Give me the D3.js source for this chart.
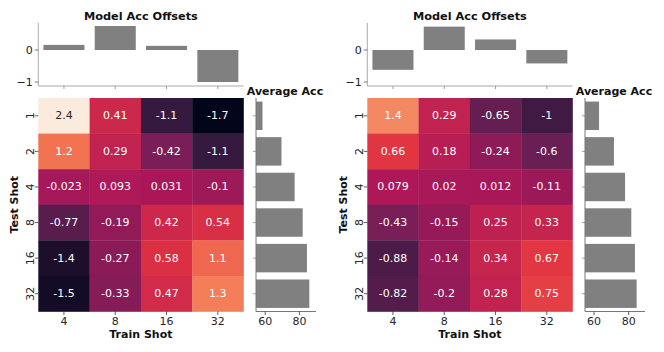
<!DOCTYPE html>
<html>
<head>
<meta charset="utf-8">
<script src="https://cdn.jsdelivr.net/npm/d3@7"></script>
<style>
  body { margin: 0; background: #fff; }
  text { font-family: "DejaVu Sans", sans-serif; }
</style>
</head>
<body>
<div id="chart"></div>
<script>
// data
var trainShots = ["4", "8", "16", "32"];
var testShots = ["1", "2", "4", "8", "16", "32"];

var leftHeat = [
  [2.4, 0.41, -1.1, -1.7],
  [1.2, 0.29, -0.42, -1.1],
  [-0.023, 0.093, 0.031, -0.1],
  [-0.77, -0.19, 0.42, 0.54],
  [-1.4, -0.27, 0.58, 1.1],
  [-1.5, -0.33, 0.47, 1.3]
];
var rightHeat = [
  [1.4, 0.29, -0.65, -1],
  [0.66, 0.18, -0.24, -0.6],
  [0.079, 0.02, 0.012, -0.11],
  [-0.43, -0.15, 0.25, 0.33],
  [-0.88, -0.14, 0.34, 0.67],
  [-0.82, -0.2, 0.28, 0.75]
];
var leftOffsets = [0.16, 0.75, 0.13, -1.0];
var rightOffsets = [-0.62, 0.73, 0.33, -0.42];
var leftAvg = [58.4, 69.5, 77.2, 81.9, 84.4, 85.8];
var rightAvg = [62.9, 71.5, 77.9, 81.5, 83.6, 84.6];
var offsetTicks = [0, -1];
var avgTicks = [60, 80];

var width = 664, height = 352;

var svg = d3.select("#chart")
    .append("svg")
    .attr("width", width)
    .attr("height", height);

// seaborn "rocket" colormap: end points plus its 6-colour palette at k/7
var rocket = ["#03051a", "#35193e", "#701f57", "#ad1759", "#e13342",
              "#f37651", "#f6b48f", "#faebdd"];
var vmin = -1.7, vmax = 2.4;
var color = d3.scaleLinear()
    .domain(rocket.map(function(c, i) { return vmin + (vmax - vmin) * i / (rocket.length - 1); }))
    .range(rocket)
    .interpolate(d3.interpolateRgb)
    .clamp(true);

var fmt = d3.formatLocale({decimal: ".", thousands: ",", grouping: [3], currency: ["", ""], minus: "-"})
    .format(".2~g");

function luminance(c) {
  var rgb = d3.rgb(c);
  var f = function(v) { v = v / 255; return v <= 0.03928 ? v / 12.92 : Math.pow((v + 0.055) / 1.055, 2.4); };
  return 0.2126 * f(rgb.r) + 0.7152 * f(rgb.g) + 0.0722 * f(rgb.b);
}

function drawPanel(dx, heat, offsets, avg, avgDomain) {
  var g = svg.append("g").attr("transform", "translate(" + dx + ",0)");

  var heatLeft = 38.3, heatRight = 243.5, heatTop = 98, heatBottom = 311.5;

  var x = d3.scaleBand().domain(trainShots).range([heatLeft, heatRight]);
  var y = d3.scaleBand().domain(testShots).range([heatTop, heatBottom]);

  // heatmap cells
  var cells = [];
  heat.forEach(function(row, i) {
    row.forEach(function(v, j) { cells.push({row: testShots[i], col: trainShots[j], value: v}); });
  });

  g.selectAll(".cell")
    .data(cells)
    .enter().append("rect")
    .attr("x", function(d) { return x(d.col); })
    .attr("y", function(d) { return y(d.row); })
    .attr("width", x.bandwidth() + 0.3)
    .attr("height", y.bandwidth() + 0.3)
    .attr("fill", function(d) { return color(d.value); });

  g.selectAll(".annot")
    .data(cells)
    .enter().append("text")
    .attr("x", function(d) { return x(d.col) + x.bandwidth() / 2; })
    .attr("y", function(d) { return y(d.row) + y.bandwidth() / 2; })
    .attr("text-anchor", "middle")
    .attr("dominant-baseline", "central")
    .attr("font-size", "11px")
    .attr("fill", function(d) { return luminance(color(d.value)) < 0.408 ? "#ffffff" : "#262626"; })
    .text(function(d) { return fmt(d.value); });

  // heatmap ticks
  g.selectAll(".xt")
    .data(trainShots)
    .enter().append("line")
    .attr("x1", function(d) { return x(d) + x.bandwidth() / 2; })
    .attr("x2", function(d) { return x(d) + x.bandwidth() / 2; })
    .attr("y1", heatBottom).attr("y2", heatBottom + 3.5)
    .attr("stroke", "#333").attr("stroke-width", 0.8);
  g.selectAll(".xl")
    .data(trainShots)
    .enter().append("text")
    .attr("x", function(d) { return x(d) + x.bandwidth() / 2; })
    .attr("y", 324.5)
    .attr("text-anchor", "middle")
    .attr("font-size", "11px")
    .attr("fill", "#262626")
    .text(function(d) { return d; });

  g.selectAll(".yt")
    .data(testShots)
    .enter().append("line")
    .attr("x1", heatLeft - 3.5).attr("x2", heatLeft)
    .attr("y1", function(d) { return y(d) + y.bandwidth() / 2; })
    .attr("y2", function(d) { return y(d) + y.bandwidth() / 2; })
    .attr("stroke", "#333").attr("stroke-width", 0.8);
  g.selectAll(".yl")
    .data(testShots)
    .enter().append("text")
    .attr("transform", function(d) { return "translate(30," + (y(d) + y.bandwidth() / 2) + ") rotate(-90)"; })
    .attr("text-anchor", "middle")
    .attr("dominant-baseline", "central")
    .attr("font-size", "11px")
    .attr("fill", "#262626")
    .text(function(d) { return d; });

  g.append("text")
    .attr("x", (heatLeft + heatRight) / 2).attr("y", 337.5)
    .attr("text-anchor", "middle")
    .attr("font-size", "11px").attr("font-weight", "bold")
    .attr("fill", "#111")
    .text("Train Shot");
  g.append("text")
    .attr("transform", "translate(17.5," + (heatTop + heatBottom) / 2 + ") rotate(-90)")
    .attr("text-anchor", "middle")
    .attr("font-size", "11px").attr("font-weight", "bold")
    .attr("fill", "#111")
    .text("Test Shot");

  // top: model acc offsets
  var yTop = d3.scaleLinear().domain([-1, 0]).range([82, 50]);
  var topY0 = 23, topY1 = 86;
  var xTop = d3.scaleBand().domain(trainShots).range([heatLeft, heatRight]).paddingInner(0.2).paddingOuter(0.1);

  g.selectAll(".obar")
    .data(offsets)
    .enter().append("rect")
    .attr("x", function(d, i) { return xTop(trainShots[i]); })
    .attr("width", xTop.bandwidth())
    .attr("y", function(d) { return yTop(Math.max(0, d)); })
    .attr("height", function(d) { return Math.abs(yTop(d) - yTop(0)); })
    .attr("fill", "#808080");

  g.append("line")
    .attr("x1", heatLeft).attr("x2", heatLeft)
    .attr("y1", topY0).attr("y2", topY1)
    .attr("stroke", "#aaa").attr("stroke-width", 1);
  g.append("line")
    .attr("x1", heatLeft).attr("x2", heatRight)
    .attr("y1", topY1).attr("y2", topY1)
    .attr("stroke", "#aaa").attr("stroke-width", 1);

  g.selectAll(".otk")
    .data(offsetTicks)
    .enter().append("line")
    .attr("x1", heatLeft - 3.5).attr("x2", heatLeft)
    .attr("y1", function(d) { return yTop(d); })
    .attr("y2", function(d) { return yTop(d); })
    .attr("stroke", "#555").attr("stroke-width", 0.8);
  g.selectAll(".otl")
    .data(offsetTicks)
    .enter().append("text")
    .attr("x", heatLeft - 5.5)
    .attr("y", function(d) { return yTop(d); })
    .attr("text-anchor", "end")
    .attr("dominant-baseline", "central")
    .attr("font-family", "DejaVu Serif, serif")
    .attr("font-size", "11px")
    .attr("fill", "#222")
    .text(function(d) { return d3.format("d")(d); });
  g.selectAll(".oxt")
    .data(trainShots)
    .enter().append("line")
    .attr("x1", function(d) { return x(d) + x.bandwidth() / 2; })
    .attr("x2", function(d) { return x(d) + x.bandwidth() / 2; })
    .attr("y1", topY1).attr("y2", topY1 + 3)
    .attr("stroke", "#888").attr("stroke-width", 0.8);

  g.append("text")
    .attr("x", (heatLeft + heatRight) / 2).attr("y", 20)
    .attr("text-anchor", "middle")
    .attr("font-size", "11.3px").attr("font-weight", "bold")
    .attr("fill", "#111")
    .text("Model Acc Offsets");

  // right: average acc
  var avgLeft = 256, avgRight = 316;
  var xAvg = d3.scaleLinear().domain(avgDomain).range([avgLeft, avgRight]);
  var yAvg = d3.scaleBand().domain(testShots).range([heatTop, heatBottom]).paddingInner(0.2).paddingOuter(0.1);

  g.selectAll(".abar")
    .data(avg)
    .enter().append("rect")
    .attr("x", avgLeft)
    .attr("y", function(d, i) { return yAvg(testShots[i]); })
    .attr("height", yAvg.bandwidth())
    .attr("width", function(d) { return xAvg(d) - avgLeft; })
    .attr("fill", "#808080");

  g.append("line")
    .attr("x1", avgLeft).attr("x2", avgLeft)
    .attr("y1", heatTop).attr("y2", heatBottom)
    .attr("stroke", "#777").attr("stroke-width", 1);
  g.append("line")
    .attr("x1", avgLeft).attr("x2", avgRight)
    .attr("y1", heatBottom).attr("y2", heatBottom)
    .attr("stroke", "#777").attr("stroke-width", 1);

  g.selectAll(".ayt")
    .data(testShots)
    .enter().append("line")
    .attr("x1", avgLeft - 3).attr("x2", avgLeft)
    .attr("y1", function(d) { return y(d) + y.bandwidth() / 2; })
    .attr("y2", function(d) { return y(d) + y.bandwidth() / 2; })
    .attr("stroke", "#888").attr("stroke-width", 0.8);
  g.selectAll(".axt")
    .data(avgTicks)
    .enter().append("line")
    .attr("x1", function(d) { return xAvg(d); })
    .attr("x2", function(d) { return xAvg(d); })
    .attr("y1", heatBottom).attr("y2", heatBottom + 3.5)
    .attr("stroke", "#333").attr("stroke-width", 0.8);
  g.selectAll(".axl")
    .data(avgTicks)
    .enter().append("text")
    .attr("x", function(d) { return xAvg(d); })
    .attr("y", 324.5)
    .attr("text-anchor", "middle")
    .attr("font-size", "11px")
    .attr("fill", "#262626")
    .text(function(d) { return d; });

  g.append("text")
    .attr("x", 285).attr("y", 95)
    .attr("text-anchor", "middle")
    .attr("font-size", "11px").attr("font-weight", "bold")
    .attr("fill", "#111")
    .text("Average Acc");
}

drawPanel(0, leftHeat, leftOffsets, leftAvg, [54.6, 89.7]);
drawPanel(329, rightHeat, rightOffsets, rightAvg, [54.8, 89.4]);
</script>
</body>
</html>
